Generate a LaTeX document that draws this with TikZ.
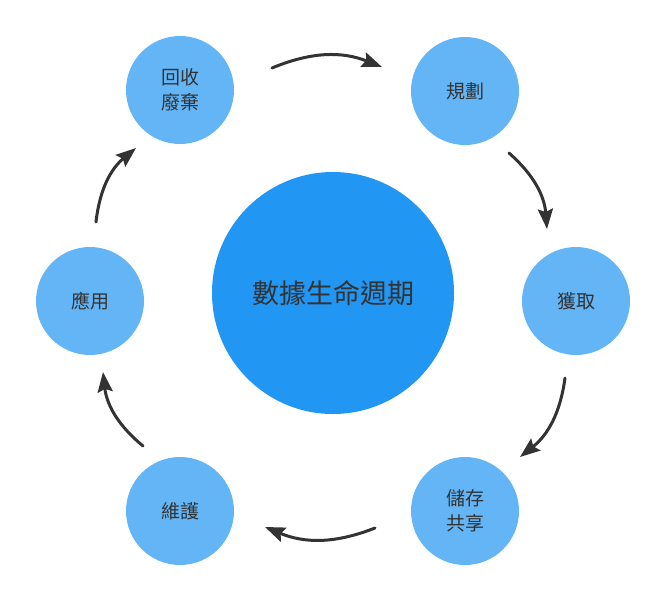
\documentclass[tikz,border=0pt]{standalone}
\usepackage{fontspec}
\newfontfamily\cjk{Noto Sans CJK TC}
\usetikzlibrary{arrows.meta}
\definecolor{mainblue}{HTML}{2196F3}
\definecolor{lightblue}{HTML}{64B5F6}
\definecolor{textgray}{HTML}{333333}
\begin{document}
\begin{tikzpicture}[x=1pt,y=-1pt,
  small/.style={circle, fill=lightblue, minimum size=108pt, inner sep=0pt,
    font=\cjk\fontsize{19}{25}\selectfont, text=textgray, align=center},
  big/.style={circle, fill=mainblue, minimum size=242pt, inner sep=0pt,
    font=\cjk\fontsize{27}{32}\selectfont, text=textgray},
  flow/.style={line width=3pt, draw=textgray, line cap=round,
    -{Stealth[length=20pt,width=15pt,inset=3pt]}}]
\useasboundingbox (0,0) rectangle (666,600);

\node[big] (center) at (333,293) {數據生命週期};
\node[small] (recycle) at (180,90) {回收\\廢棄};
\node[small] (plan) at (465,91) {規劃};
\node[small] (acquire) at (576,301) {獲取};
\node[small] (store) at (465,511) {儲存\\共享};
\node[small] (maintain) at (180,511) {維護};
\node[small] (apply) at (90,301) {應用};

\coordinate (a1s) at (272,68);  \coordinate (a1e) at (382,67);
\coordinate (a2s) at (509,153); \coordinate (a2e) at (547,229);
\coordinate (a3s) at (565,378); \coordinate (a3e) at (520,457);
\coordinate (a4s) at (375,528); \coordinate (a4e) at (265,527);
\coordinate (a5s) at (143,446); \coordinate (a5e) at (103,372);
\coordinate (a6s) at (96,222);  \coordinate (a6e) at (136,148);

\draw[flow] (a1s) to[bend left=22] (a1e);
\draw[flow] (a2s) to[bend left=22] (a2e);
\draw[flow] (a3s) to[bend left=22] (a3e);
\draw[flow] (a4s) to[bend left=22] (a4e);
\draw[flow] (a5s) to[bend left=22] (a5e);
\draw[flow] (a6s) to[bend left=22] (a6e);
\end{tikzpicture}
\end{document}
